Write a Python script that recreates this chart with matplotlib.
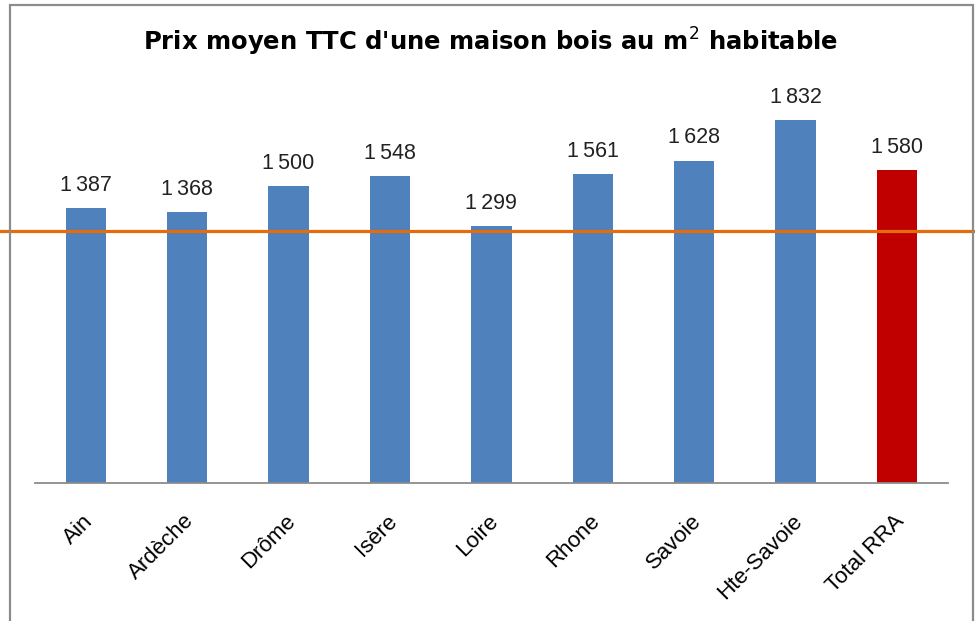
import matplotlib.pyplot as plt
import matplotlib.transforms as mtransforms
from matplotlib.patches import Rectangle

# données
departements = ["Ain", "Ardèche", "Drôme", "Isère", "Loire", "Rhone", "Savoie", "Hte-Savoie", "Total RRA"]
prix_m2 = [1387, 1368, 1500, 1548, 1299, 1561, 1628, 1832, 1580]
couleurs = ["#4F81BD"] * 8 + ["#C00000"]
ligne_ref = 1274  # trait orange

fig = plt.figure(figsize=(9.75, 6.21), dpi=100)
ax = fig.add_axes([0.036, 0.222, 0.936, 0.638])

x = range(len(departements))
bars = ax.bar(x, prix_m2, width=0.40, color=couleurs, zorder=2)

for b, v in zip(bars, prix_m2):
    lab = f"{v:,}".replace(",", "\u2009")
    ax.text(b.get_x() + b.get_width() / 2, v + 62, lab, ha="center", va="bottom",
            fontsize=15.5, family="Liberation Sans", color="#222222")

ax.set_xlim(-0.5, len(departements) - 0.5)
ax.set_ylim(0, 2000)
ax.set_xticks(list(x))
ax.set_xticklabels(departements, rotation=45, ha="right", va="center",
                   rotation_mode="anchor", fontsize=16, family="Liberation Sans")
ax.tick_params(axis="x", length=0, pad=25)
for lbl in ax.get_xticklabels():
    lbl.set_transform(lbl.get_transform() + mtransforms.ScaledTranslation(4 / 100, 0, fig.dpi_scale_trans))
ax.set_yticks([])
for s in ["top", "left", "right"]:
    ax.spines[s].set_visible(False)
ax.spines["bottom"].set_color("#8c8c8c")
ax.spines["bottom"].set_linewidth(1.3)

# trait orange sur toute la largeur
trans = mtransforms.blended_transform_factory(fig.transFigure, ax.transData)
ax.plot([0, 1], [ligne_ref, ligne_ref], transform=trans, color="#E46C0A",
        lw=2.3, clip_on=False, zorder=3)

fig.text(0.503, 0.906, "Prix moyen TTC d'une maison bois au m$^2$ habitable",
         ha="center", va="bottom", fontsize=17.5, fontweight="bold", family="DejaVu Sans")

# cadre du graphique
fig.patches.append(Rectangle((10 / 975, -0.05), 963 / 975, 1.05 - 4.5 / 621,
                             transform=fig.transFigure, fill=False,
                             edgecolor="#8c8c8c", lw=1.6))

fig.savefig("out.png", dpi=100)
